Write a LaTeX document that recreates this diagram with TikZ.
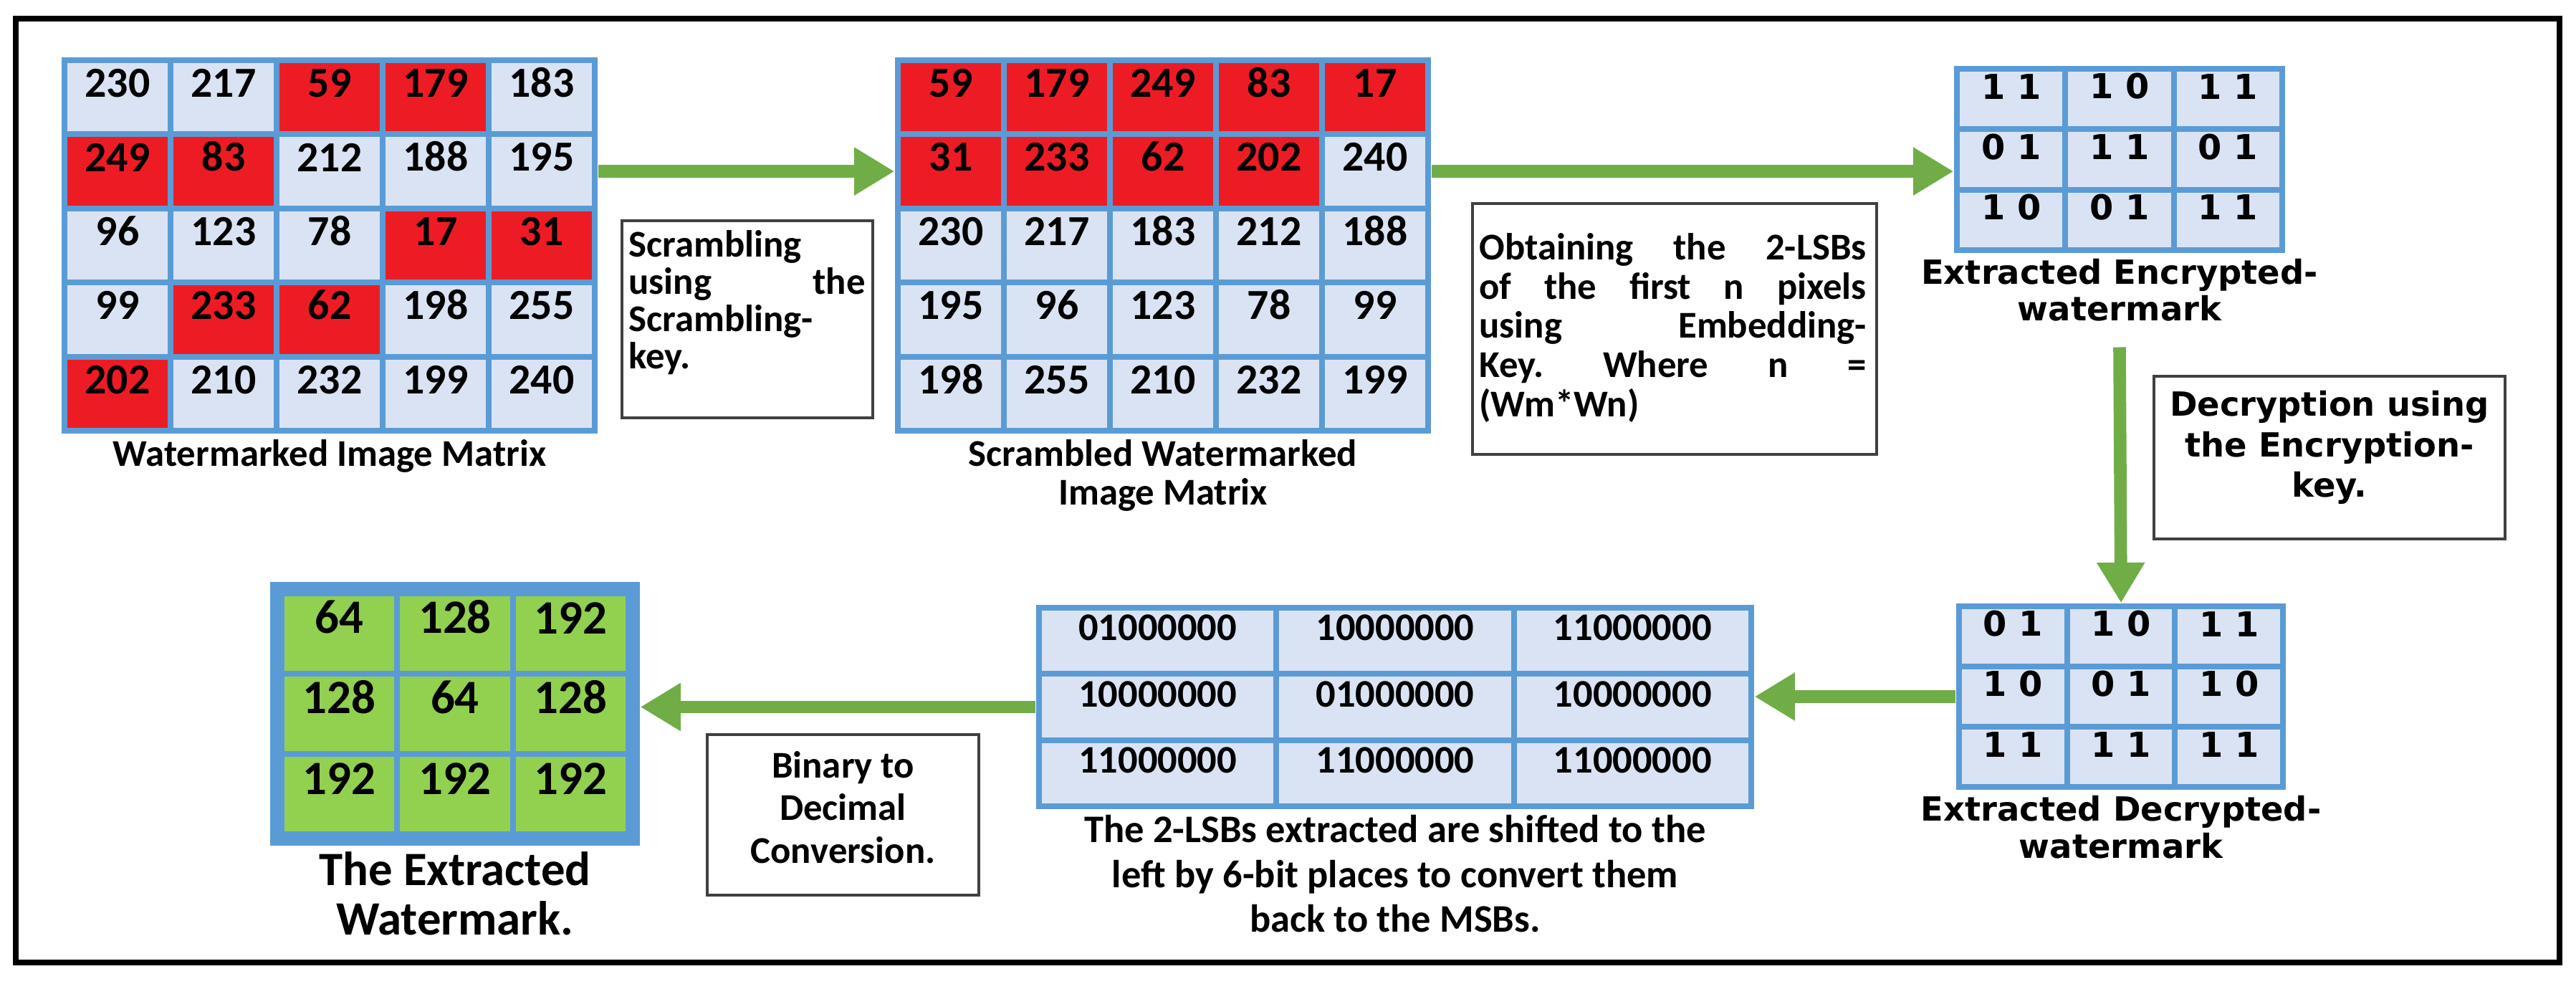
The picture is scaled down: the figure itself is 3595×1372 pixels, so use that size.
\documentclass[tikz,border=0pt]{standalone}
\usepackage{fontspec}
\setmainfont{Carlito}
\newfontfamily\dvs{DejaVu Sans}
\usetikzlibrary{arrows.meta,fit}
\definecolor{bblue}{HTML}{5B9BD5}
\definecolor{lcell}{HTML}{DAE3F3}
\definecolor{rcell}{HTML}{ED1C24}
\definecolor{gcell}{HTML}{92D050}
\definecolor{agreen}{HTML}{70AD47}
\tikzset{
  arr/.style={draw=agreen, line width=5pt, -{Triangle[length=16pt,width=18pt]}},
  tbox/.style={draw=black!75, line width=1pt, fill=white, inner sep=0},
  cur/.style={},
  lab/.style={anchor=north, inner sep=2pt, align=center, font=\bfseries\fontsize{15}{15.5}\selectfont},
  dlab/.style={anchor=north, inner sep=2pt, align=center, font=\dvs\bfseries\fontsize{13.2}{14.6}\selectfont},
}
\newcommand\mgrid[9]{%
  \pgfmathsetmacro\mgX{#2+2*#6+#7*#4}%
  \pgfmathsetmacro\mgY{#3+2*#6+#8*#5}%
  \node[fit={(#2,#3)(\mgX,\mgY)}, inner sep=0, fill=bblue] (#1) {};
  \foreach \r/\c/\t/\f in {#9}{
    \pgfmathsetmacro\xa{#2+#6+(\c-1)*#4+4}
    \pgfmathsetmacro\xb{#2+#6+\c*#4-4}
    \pgfmathsetmacro\ya{#3+#6+(\r-1)*#5+4}
    \pgfmathsetmacro\yb{#3+#6+\r*#5-4}
    \node[fit={(\xa,\ya)(\xb,\yb)}, inner sep=0, fill=\f, cur] (#1c\r\c) {\t};
  }
}
\begin{document}
\begin{tikzpicture}[x=0.01cm,y=-0.01cm]
\useasboundingbox (0,0) rectangle (3595,1372);
\draw[line width=2.4pt] (22,26) rectangle (3572,1343);

% matrix 1
\tikzset{cur/.style={font=\bfseries\fontsize{17}{17}\selectfont}}
\mgrid{ma}{86}{80}{148}{103.4}{4}{5}{5}{
1/1/230/lcell,1/2/217/lcell,1/3/59/rcell,1/4/179/rcell,1/5/183/lcell,
2/1/249/rcell,2/2/83/rcell,2/3/212/lcell,2/4/188/lcell,2/5/195/lcell,
3/1/96/lcell,3/2/123/lcell,3/3/78/lcell,3/4/17/rcell,3/5/31/rcell,
4/1/99/lcell,4/2/233/rcell,4/3/62/rcell,4/4/198/lcell,4/5/255/lcell,
5/1/202/rcell,5/2/210/lcell,5/3/232/lcell,5/4/199/lcell,5/5/240/lcell}
\node[lab] (la) at (ma.south) {Watermarked Image Matrix};

% matrix 2
\mgrid{mb}{1249}{80}{148}{103.4}{4}{5}{5}{
1/1/59/rcell,1/2/179/rcell,1/3/249/rcell,1/4/83/rcell,1/5/17/rcell,
2/1/31/rcell,2/2/233/rcell,2/3/62/rcell,2/4/202/rcell,2/5/240/lcell,
3/1/230/lcell,3/2/217/lcell,3/3/183/lcell,3/4/212/lcell,3/5/188/lcell,
4/1/195/lcell,4/2/96/lcell,4/3/123/lcell,4/4/78/lcell,4/5/99/lcell,
5/1/198/lcell,5/2/255/lcell,5/3/210/lcell,5/4/232/lcell,5/5/199/lcell}
\node[lab] (lb) at (mb.south) {Scrambled Watermarked\\Image Matrix};

% matrix 3
\tikzset{cur/.style={font=\dvs\bfseries\fontsize{13.6}{13.6}\selectfont}}
\mgrid{mc}{2727}{92}{151.3}{84.3}{4}{3}{3}{
1/1/1 1/lcell,1/2/1 0/lcell,1/3/1 1/lcell,
2/1/0 1/lcell,2/2/1 1/lcell,2/3/0 1/lcell,
3/1/1 0/lcell,3/2/0 1/lcell,3/3/1 1/lcell}
\node[dlab] (lc) at (mc.south) {Extracted Encrypted-\\watermark};

% matrix 4
\mgrid{md}{2730}{842}{150.7}{84}{4}{3}{3}{
1/1/0 1/lcell,1/2/1 0/lcell,1/3/1 1/lcell,
2/1/1 0/lcell,2/2/0 1/lcell,2/3/1 0/lcell,
3/1/1 1/lcell,3/2/1 1/lcell,3/3/1 1/lcell}
\node[dlab] (ld) at (md.south) {Extracted Decrypted-\\watermark};

% matrix 5
\tikzset{cur/.style={font=\bfseries\fontsize{15.5}{15.5}\selectfont}}
\mgrid{me}{1446}{844}{331.3}{92.3}{4}{3}{3}{
1/1/01000000/lcell,1/2/10000000/lcell,1/3/11000000/lcell,
2/1/10000000/lcell,2/2/01000000/lcell,2/3/10000000/lcell,
3/1/11000000/lcell,3/2/11000000/lcell,3/3/11000000/lcell}
\node[lab, font=\bfseries\fontsize{15.5}{17.8}\selectfont] (le) at (me.south) {The 2-LSBs extracted are shifted to the\\left by 6-bit places to convert them\\back to the MSBs.};

% matrix 6
\tikzset{cur/.style={font=\bfseries\fontsize{19}{19}\selectfont}}
\mgrid{mf}{377}{812}{161.3}{112}{16}{3}{3}{
1/1/64/gcell,1/2/128/gcell,1/3/192/gcell,
2/1/128/gcell,2/2/64/gcell,2/3/128/gcell,
3/1/192/gcell,3/2/192/gcell,3/3/192/gcell}
\node[lab, font=\bfseries\fontsize{19}{19.6}\selectfont] (lf) at (mf.south) {The Extracted\\Watermark.};

% text boxes
\coordinate (s1) at (868,308); \coordinate (s2) at (1218,583);
\node[tbox, fit=(s1)(s2)] (bs) {};
\node[anchor=north west, inner sep=0, text width=3.3cm, align=left, font=\bfseries\fontsize{15}{14.8}\selectfont] (ts) at ([xshift=3pt,yshift=-4pt]bs.north west)
 {Scrambling\\using\hfill the\\Scrambling-\\key.};

\coordinate (o1) at (2055,284); \coordinate (o2) at (2619,634);
\node[tbox, fit=(o1)(o2)] (bo) {};
\node[anchor=north west, inner sep=0, text width=5.4cm, align=left, font=\bfseries\fontsize{15}{15.6}\selectfont] (to) at ([xshift=3pt,yshift=-12pt]bo.north west)
 {Obtaining\hfill the\hfill 2-LSBs\\of\hfill the\hfill first\hfill n\hfill pixels\\using\hfill Embedding-\\Key.\hfill Where\hfill n\hfill =\\(Wm*Wn)};

\coordinate (d1) at (3006,525); \coordinate (d2) at (3496,752);
\node[tbox, fit=(d1)(d2)] (bd) {};
\node[inner sep=0, align=center, font=\dvs\bfseries\fontsize{13.2}{16}\selectfont] (td) at ([yshift=4pt]bd.center)
 {Decryption using\\the Encryption-\\key.};

\coordinate (b1) at (987,1025); \coordinate (b2) at (1366,1249);
\node[tbox, fit=(b1)(b2)] (bb) {};
\node[inner sep=0, align=center, font=\bfseries\fontsize{15}{17}\selectfont] (tb) at ([yshift=3pt]bb.center)
 {Binary to\\Decimal\\Conversion.};

% arrows
\draw[arr] (mac25.east -| ma.east) -- (mac25.east -| mb.west);
\draw[arr] (mbc25.east -| mb.east) -- (mbc25.east -| mc.west);
\draw[arr] ([yshift=-8pt]lc.south) -- (md.north);
\draw[arr] (mdc21.west -| md.west) -- (mdc21.west -| me.east);
\draw[arr] (mec21.west -| me.west) -- (mec21.west -| mf.east);
\end{tikzpicture}
\end{document}
